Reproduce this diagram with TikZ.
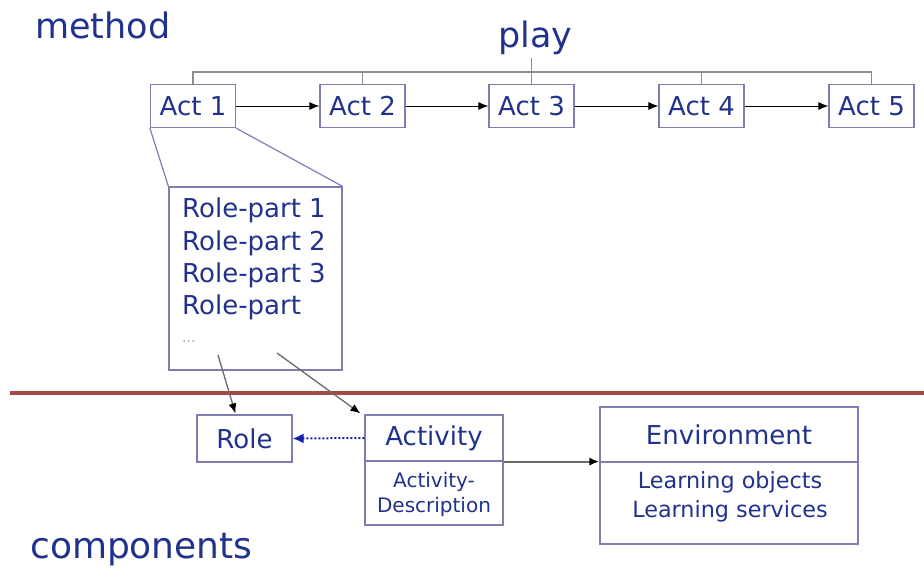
\documentclass[tikz,border=0pt]{standalone}
\usepackage{fontspec}
\setmainfont{DejaVu Sans}
\usetikzlibrary{arrows.meta,calc}
\definecolor{txtblue}{RGB}{32,50,140}
\definecolor{boxline}{RGB}{125,125,180}
\definecolor{brk}{RGB}{140,140,140}
\definecolor{redline}{RGB}{165,72,72}
\definecolor{dotblue}{RGB}{20,30,170}
\definecolor{conn}{RGB}{105,105,105}
\begin{document}
\begin{tikzpicture}[x=1pt,y=-1pt,
  title/.style={text=txtblue, inner sep=0pt, font=\fontsize{35}{40}\selectfont},
  actbox/.style={draw=boxline, line width=1.2pt, minimum width=85pt, minimum height=43pt, inner sep=0pt, text=txtblue, font=\fontsize{26}{31}\selectfont},
  plainbox/.style={draw=boxline, line width=1.2pt, inner sep=0pt},
  bigtext/.style={text=txtblue, inner sep=0pt, font=\fontsize{26}{31}\selectfont},
  midtext/.style={text=txtblue, inner sep=0pt, font=\fontsize{22.3}{29}\selectfont},
  smalltext/.style={text=txtblue, inner sep=0pt, font=\fontsize{20}{25}\selectfont},
  actarrow/.style={draw=black, line width=1pt, -{Latex[length=10pt,width=8pt]}},
  grayarrow/.style={draw=conn, line width=1.3pt, -{Latex[length=10pt,width=8pt,color=black]}},
  dotarrow/.style={draw=dotblue, line width=2pt, dash pattern=on 2pt off 2pt, -{Latex[length=11pt,width=10pt]}},
  brackline/.style={draw=brk, line width=1.3pt}
]
\useasboundingbox (0,0) rectangle (924,571);

% titles
\node[title, anchor=base west] (meth) at (35,38) {method};
\node[title, anchor=base west] (play) at (498,47) {play};
\node[title, font=\fontsize{36}{40}\selectfont, anchor=base west] (comp) at (30,558) {components};

% acts
\node[actbox] (a1) at (193,106) {Act 1};
\node[actbox] (a2) at (362.5,106) {Act 2};
\node[actbox] (a3) at (531.5,106) {Act 3};
\node[actbox] (a4) at (701.5,106) {Act 4};
\node[actbox] (a5) at (871.5,106) {Act 5};

% play bracket
\coordinate (bar) at (0,72);
\draw[brackline] (a1.north) -- (a1.north |- bar) -- (a5.north |- bar) -- (a5.north);
\foreach \n in {2,3,4} \draw[brackline] (a\n.north) -- (a\n.north |- bar);
\draw[brackline] (a3.north |- play.south) ++(0,4) -- (a3.north);

% act arrows
\draw[actarrow] (a1) -- (a2);
\draw[actarrow] (a2) -- (a3);
\draw[actarrow] (a3) -- (a4);
\draw[actarrow] (a4) -- (a5);

% role-part box
\node[plainbox, minimum width=173pt, minimum height=183pt] (rp) at (255.5,278.5) {};
\draw[draw=boxline, line width=1.2pt] (a1.south west) -- (rp.north west);
\draw[draw=boxline, line width=1.2pt] (a1.south east) -- (rp.north east);
\node[bigtext, anchor=base west] (r1) at (182,217) {Role-part 1};
\node[bigtext, anchor=base west] (r2) at (182,250) {Role-part 2};
\node[bigtext, anchor=base west] (r3) at (182,282) {Role-part 3};
\node[bigtext, anchor=base west] (r4) at (182,314) {Role-part};
\node[text=gray!70, inner sep=0pt, anchor=base west, font=\fontsize{14}{16}\selectfont] (dots) at (182,342) {...};

% separator
\draw[redline, line width=3.5pt] (10,393) -- (924,393);

% components
\node[plainbox, minimum width=95pt, minimum height=47pt] (role) at (244.5,438.5) {};
\node[bigtext] (roletxt) at (role.center) {Role};

\node[plainbox, minimum width=138pt, minimum height=46pt] (actt) at (434,438) {};
\node[bigtext] (acttxt) at (actt.center) {Activity};
\node[plainbox, minimum width=138pt, minimum height=64pt] (actb) at (434,493) {};
\node[smalltext, anchor=base] (ad1) at (434,487) {Activity-};
\node[smalltext, anchor=base] (ad2) at (434,512) {Description};

\node[plainbox, minimum width=258pt, minimum height=55pt] (envt) at (729,434.5) {};
\node[bigtext] (envtxt) at (envt.center) {Environment};
\node[plainbox, minimum width=258pt, minimum height=82pt] (envb) at (729,503) {};
\node[midtext, anchor=base] (lo) at (730,488) {Learning objects};
\node[midtext, anchor=base] (ls) at (730,517) {Learning services};

% connectors
\coordinate (s1) at (218,355);
\coordinate (s2) at (277,353);
\draw[grayarrow] (s1) -- ($(role.north west)+(39,-1)$);
\draw[grayarrow] (s2) -- ($(actt.north west)+(-4,-1)$);
\draw[dotarrow] (actt.west) -- (role.east);
\draw[draw=conn, line width=2pt, -{Latex[length=10pt,width=8pt,color=black]}] (actt.south east) -- (actt.south east -| envt.west);
\end{tikzpicture}
\end{document}
